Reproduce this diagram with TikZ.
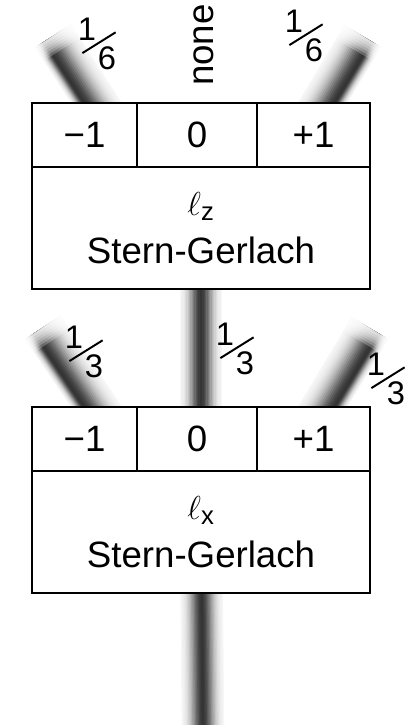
\documentclass[tikz,border=0pt]{standalone}
\usepackage{fontspec}
\setmainfont{Liberation Sans}
\usepackage{graphicx}
\usetikzlibrary{
    positioning,
    calc
}
\pgfdeclarelayer{beams}
\pgfsetlayers{beams,main}

% slanted fraction, numerator up left, denominator down right
\newcommand\slfrac[2]{%
  \rlap{\kern-0.12em\raisebox{0.45em}{#1}}%
  \raisebox{0.05em}{\rotatebox{32}{\rule{1.2em}{0.06em}}}%
  \llap{\raisebox{-0.42em}{#2}}}

% soft grey beam from stacked strokes; [k] pushes the dark core towards angle #4
\newcommand\beam[4][0]{%
  \foreach \w in {32,30,...,2}{%
    \pgfmathsetmacro\c{80*exp(-((\w/18)^2))}%
    \pgfmathsetmacro\o{#1*(32-\w)}%
    \draw[line width=\w pt, draw=black!\c, shorten <=-20pt]
      ([shift={(#4:\o pt)}]#2) -- ([shift={(#4:\o pt)}]#3);}}

% fade the far end of a beam
\newcommand\beamend[2]{%
  \foreach \d in {2,4,...,12}
    {\draw[line width=60pt, white, opacity=0.25] ($(#2)!{\d pt}!(#1)$) -- (#2);}}

\begin{document}
\begin{tikzpicture}
[
    x=0.75pt,
    y=0.75pt,
    font=\fontsize{27.5}{36}\selectfont,
    cell/.style={
        draw=black,
        fill=white,
        line width=1.2pt,
        minimum height=48pt,
        inner sep=0pt,
        outer sep=0pt
    },
    panel/.style={
        draw=black,
        fill=white,
        line width=1.2pt,
        align=center,
        minimum width=253.5pt,
        minimum height=91.5pt,
        outer sep=0pt
    },
    prob/.style={
        inner sep=1pt,
        font=\fontsize{24.5}{30}\selectfont
    }
]

\useasboundingbox (0,0) rectangle (413,725);


% =====================
% l_z MAGNET
% =====================

\node[
cell,
minimum width=78.75pt,
anchor=north west
]
(zm) at (32,622)
{−1};

\node[
cell,
minimum width=90pt,
right=0pt of zm
]
(z0)
{0};

\node[
cell,
minimum width=84.75pt,
right=0pt of z0
]
(zp)
{+1};

\node[
panel,
below=0pt of zm.south west,
anchor=north west
]
(zlab)
{$\ell$\textsubscript{z}\\Stern-Gerlach};


% =====================
% l_x MAGNET
% =====================

\node[
cell,
minimum width=78.75pt,
anchor=north west
]
(xm) at (32,318)
{−1};

\node[
cell,
minimum width=90pt,
right=0pt of xm
]
(x0)
{0};

\node[
cell,
minimum width=84.75pt,
right=0pt of x0
]
(xp)
{+1};

\node[
panel,
below=0pt of xm.south west,
anchor=north west
]
(xlab)
{$\ell$\textsubscript{x}\\Stern-Gerlach};


% =====================
% PROBABILITIES
% =====================

\node[prob] (p-zm) at (99,681) {\slfrac{1}{6}};
\node[prob, rotate=90, font=\fontsize{27.5}{33}\selectfont] (p-z0) at (204,680) {none};
\node[prob] (p-zp) at (306,689) {\slfrac{1}{6}};

\node[prob] (p-xm) at (86,373) {\slfrac{1}{3}};
\node[prob] (p-x0) at (237,376) {\slfrac{1}{3}};
\node[prob] (p-xp) at (388,346) {\slfrac{1}{3}};


% =====================
% BEAMS
% =====================

\coordinate (src) at (203,-5);
\coordinate (zm-in) at ([shift={(12,0)}]zm.north);
\coordinate (zp-in) at ([shift={(9,0)}]zp.north);
\coordinate (xm-in) at ([shift={(12,0)}]xm.north);
\coordinate (xp-in) at ([shift={(9,0)}]xp.north);
\coordinate (zm-end) at ([shift={(123:80)}]zm-in);
\coordinate (zp-end) at ([shift={(59:78)}]zp-in);
\coordinate (xm-end) at ([shift={(124:96)}]xm-in);
\coordinate (xp-end) at ([shift={(59:92)}]xp-in);

\begin{pgfonlayer}{beams}
\beam{src}{xlab}{0}
\beam{zlab}{xlab}{0}
\beam[0.25]{xm-in}{xm-end}{214}
\beam[0.25]{xp-in}{xp-end}{-31}
\beam[0.25]{zm-in}{zm-end}{213}
\beam[0.25]{zp-in}{zp-end}{-31}
\beamend{xm-in}{xm-end}
\beamend{xp-in}{xp-end}
\beamend{zm-in}{zm-end}
\beamend{zp-in}{zp-end}
\end{pgfonlayer}

\end{tikzpicture}
\end{document}
